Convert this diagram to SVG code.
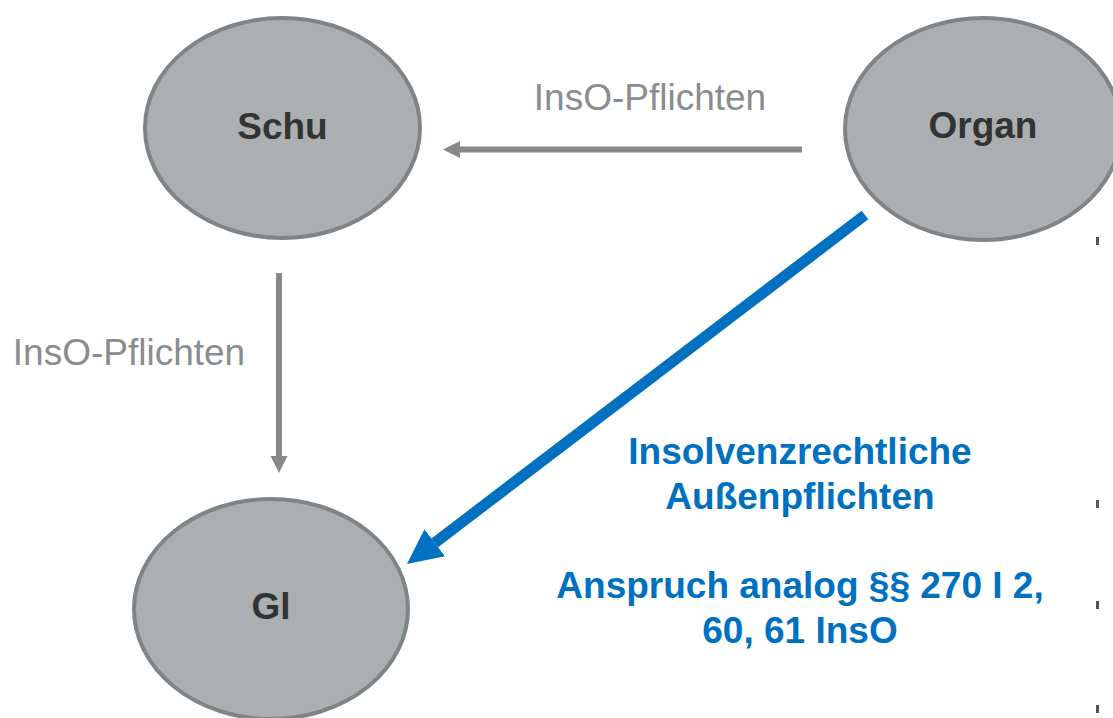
<svg xmlns="http://www.w3.org/2000/svg" width="1113" height="718" viewBox="0 0 1113 718">
  <style>
    .node { fill: #abafb2; stroke: #7f8487; stroke-width: 4; }
    .nlabel { font-family: "Liberation Sans", Arial, sans-serif; font-weight: bold; font-size: 37px; fill: #333333; text-anchor: middle; }
    .glabel { font-family: "Liberation Sans", Arial, sans-serif; font-size: 37px; fill: #8a8c8e; text-anchor: middle; }
    .blabel { font-family: "Liberation Sans", Arial, sans-serif; font-weight: bold; font-size: 37px; fill: #0070c0; text-anchor: middle; }
    .gline { stroke: #888888; stroke-width: 6; fill: none; }
    .bline { stroke: #0070c0; stroke-width: 11; fill: none; }
    .mark { fill: #555555; }
  </style>
  <defs>
    <marker id="ga" markerUnits="userSpaceOnUse" markerWidth="18" markerHeight="18" refX="0" refY="9" orient="auto">
      <path d="M0,0.5 L17,9 L0,17.5 z" fill="#888888"/>
    </marker>
    <marker id="ba" markerUnits="userSpaceOnUse" markerWidth="36" markerHeight="36" refX="0" refY="18" orient="auto">
      <path d="M0,1 L35,18 L0,35 z" fill="#0070c0"/>
    </marker>
  </defs>

  <g id="node-schu">
    <ellipse class="node" cx="282.5" cy="128" rx="137.5" ry="110"/>
    <text class="nlabel" x="282.5" y="139">Schu</text>
  </g>
  <g id="node-organ">
    <ellipse class="node" cx="983" cy="129" rx="138" ry="111"/>
    <text class="nlabel" x="983" y="138">Organ</text>
  </g>
  <g id="node-gl">
    <ellipse class="node" cx="271" cy="609" rx="137" ry="110"/>
    <text class="nlabel" x="271" y="619">Gl</text>
  </g>

  <g id="connectors">
    <line class="gline" x1="802" y1="149.5" x2="460" y2="149.5" marker-end="url(#ga)"/>
    <line class="gline" x1="279" y1="273" x2="279" y2="456" marker-end="url(#ga)"/>
    <line class="bline" x1="865" y1="215" x2="434.8" y2="542.8" marker-end="url(#ba)"/>
  </g>

  <g id="labels">
    <text class="glabel" x="650" y="110">InsO-Pflichten</text>
    <text class="glabel" x="129" y="365">InsO-Pflichten</text>
    <text class="blabel" x="800" y="464">Insolvenzrechtliche</text>
    <text class="blabel" x="800" y="509">Außenpflichten</text>
    <text class="blabel" x="800" y="598">Anspruch analog §§ 270 I 2,</text>
    <text class="blabel" x="800" y="643">60, 61 InsO</text>
  </g>

  <g id="edge-marks">
    <rect class="mark" x="1096" y="237" width="3" height="8"/>
    <rect class="mark" x="1096" y="500" width="3" height="8"/>
    <rect class="mark" x="1096" y="601" width="3" height="8"/>
    <rect class="mark" x="1096" y="705" width="3" height="8"/>
  </g>
</svg>
